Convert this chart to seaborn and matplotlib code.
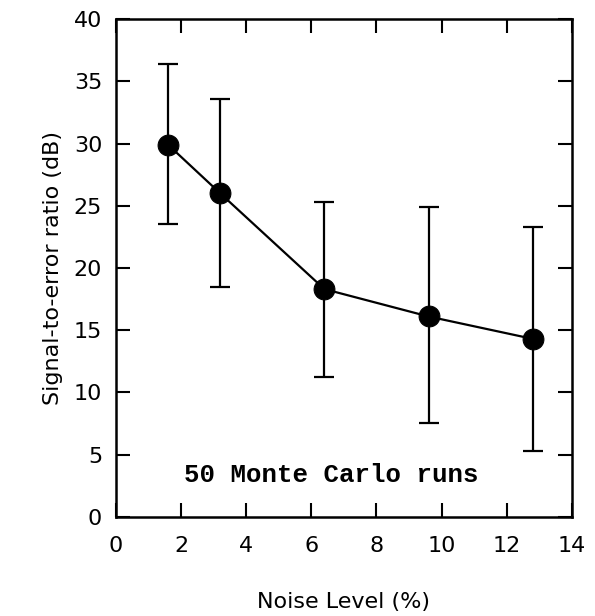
import matplotlib
matplotlib.use("Agg")

import numpy as np
import pandas as pd
import matplotlib.pyplot as plt
import seaborn as sns

# Valores
noise_level = [1.6, 3.2, 6.4, 9.6, 12.8]
snr_mean = [29.9, 26.0, 18.3, 16.1, 14.3]
snr_upper = [36.4, 33.6, 25.3, 24.9, 23.3]
snr_lower = [23.5, 18.5, 11.2, 7.5, 5.3]

x_ticks = [0, 2, 4, 6, 8, 10, 12, 14]
y_ticks = [0, 5, 10, 15, 20, 25, 30, 35, 40]

sns.set_theme(style="ticks")
plt.rcParams["font.family"] = ["DejaVu Sans"]

df = pd.DataFrame({"noise": noise_level, "snr": snr_mean})
yerr = np.array([
    np.array(snr_mean) - np.array(snr_lower),
    np.array(snr_upper) - np.array(snr_mean),
])

fig = plt.figure(figsize=(5.95, 6.16), dpi=100)
ax = fig.add_axes([0.195, 0.161, 0.766, 0.808])

ax.errorbar(noise_level, snr_mean, yerr=yerr, fmt="none", ecolor="black",
            elinewidth=1.6, capsize=7, capthick=1.6, zorder=2)
sns.lineplot(data=df, x="noise", y="snr", ax=ax, color="black", lw=1.6,
             marker="o", markersize=15, markeredgecolor="black",
             markerfacecolor="black", zorder=3)

ax.set_xlim(0, 14)
ax.set_ylim(0, 40)
ax.set_xticks(x_ticks)
ax.set_yticks(y_ticks)
ax.tick_params(direction="in", top=True, right=True, length=10, width=1.5,
               labelsize=16, pad=10, colors="black")
ax.tick_params(axis="x", pad=14)
for side in ax.spines.values():
    side.set_linewidth(1.8)
    side.set_color("black")

ax.set_xlabel("Noise Level (%)", fontsize=16, labelpad=26, color="black")
ax.set_ylabel("Signal-to-error ratio (dB)", fontsize=16, labelpad=8,
              color="black")

ax.text(6.6, 3.4, "50 Monte Carlo runs", ha="center", va="center",
        fontsize=18.5, family=["Liberation Mono", "DejaVu Sans Mono"],
        fontweight="bold", color="black")

fig.savefig("out.png", dpi=100)
plt.close(fig)
